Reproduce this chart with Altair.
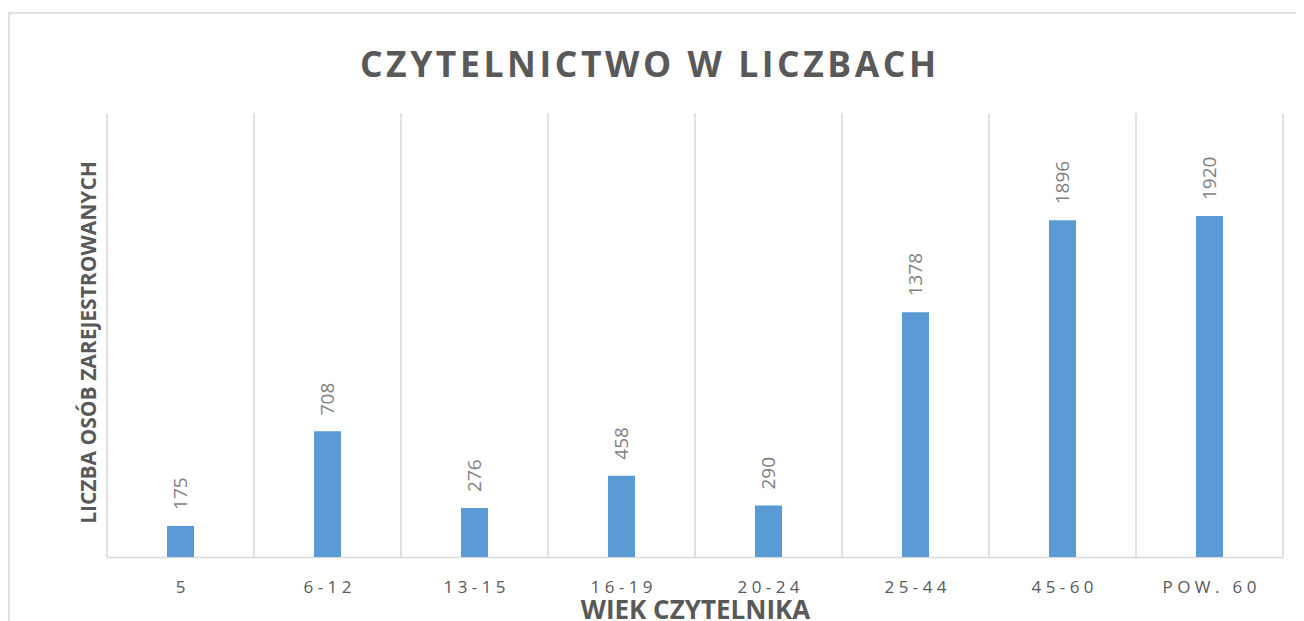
import altair as alt
import pandas as pd

categories = ["5", "6-12", "13-15", "16-19", "20-24", "25-44", "45-60", "POW. 60"]
values = [175, 708, 276, 458, 290, 1378, 1896, 1920]
chart_title = "CZYTELNICTWO W LICZBACH"
x_title = "WIEK CZYTELNIKA"
y_title = "LICZBA OSÓB ZAREJESTROWANYCH"

W, H = 1176, 444
GRAY = "#d9d9d9"
TXT = "#595959"

df = pd.DataFrame({"wiek": categories, "liczba": values})

xscale = alt.Scale(domain=categories, paddingInner=0, paddingOuter=0)
yscale = alt.Scale(domain=[0, 2500], nice=False)

x_axis = alt.Axis(
    title=x_title,
    grid=False,
    ticks=False,
    tickSize=0,
    domainColor=GRAY,
    domainWidth=1.5,
    labelAngle=0,
    labelFont="Open Sans",
    labelFontSize=17,
    labelColor=TXT,
    labelPadding=35,
    labelBaseline="alphabetic",
    labelExpr="join(split(datum.label, ''), '\u00a0')",
    titleFont="Open Sans",
    titleFontSize=26,
    titleFontWeight="bold",
    titleColor=TXT,
    titleBaseline="alphabetic",
    titleY=61,
)

y_axis = alt.Axis(
    title=y_title,
    labels=False,
    ticks=False,
    domain=False,
    grid=False,
    titleFont="Open Sans",
    titleFontSize=21,
    titleFontWeight="bold",
    titleColor=TXT,
    titleAngle=270,
    titleX=-12,
    titleY=229,
    titleAlign="center",
    titleBaseline="alphabetic",
)

frame = alt.Chart(pd.DataFrame({"a": [0]})).mark_rect(
    fill="#ffffff", fillOpacity=0, stroke=GRAY, strokeWidth=1.5
).encode(
    x=alt.value(-98), x2=alt.value(1230), y=alt.value(-100), y2=alt.value(700)
)

grid = alt.Chart(df).mark_rule(color=GRAY, strokeWidth=1.5).encode(
    x=alt.X("wiek:N", scale=xscale, bandPosition=0, axis=x_axis),
    y=alt.value(0),
    y2=alt.value(H),
)

right_edge = alt.Chart(pd.DataFrame({"a": [0]})).mark_rule(color=GRAY, strokeWidth=1.5).encode(
    x=alt.value(W), y=alt.value(0), y2=alt.value(H)
)

bars = alt.Chart(df).mark_bar(color="#5b9bd5", width=alt.RelativeBandSize(0.184)).encode(
    x=alt.X("wiek:N", scale=xscale, axis=x_axis),
    y=alt.Y("liczba:Q", scale=yscale, axis=y_axis),
)

labels = alt.Chart(df).mark_text(
    angle=270, align="left", baseline="middle", dx=16,
    font="Open Sans", fontSize=19, color="#7f7f7f"
).encode(
    x=alt.X("wiek:N", scale=xscale, axis=x_axis),
    y=alt.Y("liczba:Q", scale=yscale, axis=y_axis),
    text=alt.Text("liczba:Q"),
)

title = alt.Chart(pd.DataFrame({"t": [chart_title]})).transform_calculate(
    ts="join(split(datum.t, ''), '\u200a')"
).mark_text(
    font="Open Sans", fontSize=35.5, fontWeight="bold", color=TXT,
    align="center", baseline="alphabetic"
).encode(
    text="ts:N", x=alt.value(541), y=alt.value(-36)
)

chart = alt.layer(frame, grid, right_edge, bars, labels, title).properties(
    width=W,
    height=H,
    autosize=alt.AutoSizeParams(type="none"),
    padding={"left": 99, "top": 105, "right": 13, "bottom": 64},
    background="#ffffff",
).configure_view(stroke="transparent")

chart.save("out.html", embed_options={"renderer": "svg", "actions": False})
